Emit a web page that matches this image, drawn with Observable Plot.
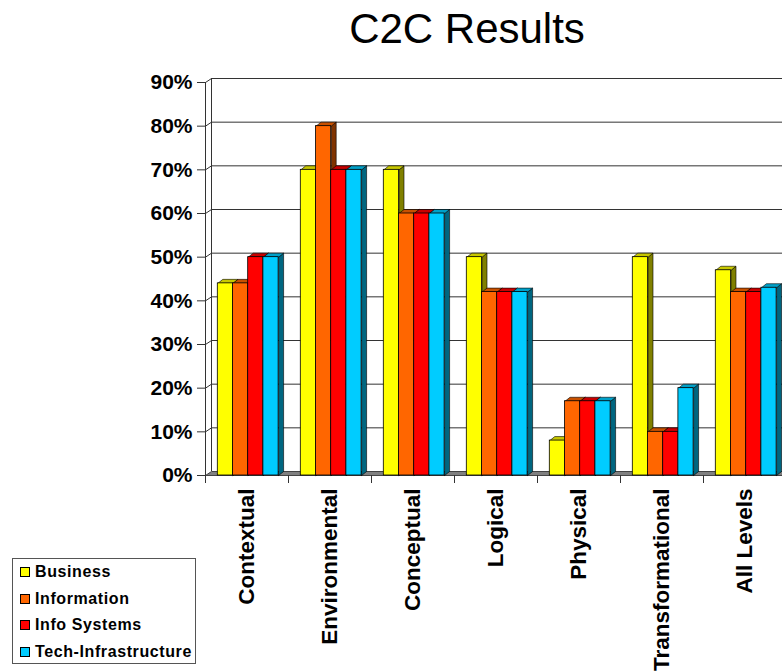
<!DOCTYPE html>
<html>
<head>
<meta charset="utf-8">
<script src="https://cdn.jsdelivr.net/npm/d3@7"></script>
<script src="https://cdn.jsdelivr.net/npm/@observablehq/plot@0.6"></script>
<style>
  html, body { margin: 0; padding: 0; background: #fff; overflow: hidden; }
  #wrap { position: relative; width: 782px; height: 671px; }
  #title { position: absolute; left: 267px; width: 400px; top: 8px; text-align: center;
           font-family: "Liberation Sans", Arial, sans-serif; font-size: 42px; line-height: 42px; color: #000; }
  #legend { position: absolute; left: 12px; top: 558px; width: 184px; height: 106px;
            border: 1px solid #555; box-sizing: border-box; padding-top: 0px;
            font-family: "Liberation Sans", Arial, sans-serif; font-weight: bold; font-size: 16px; letter-spacing: 0.6px; }
  .item { display: flex; align-items: center; height: 26.5px; }
  .sw { width: 8px; height: 8px; border: 1px solid #000; margin-left: 7px; margin-right: 5px; flex: none; }
</style>
</head>
<body>
<div id="wrap">
  <div id="chart"></div>
  <div id="title">C2C Results</div>
  <div id="legend"></div>
</div>
<script>
// ---- data ----
const categories = ["Contextual", "Environmental", "Conceptual", "Logical", "Physical", "Transformational", "All Levels"];
const series = ["Business", "Information", "Info Systems", "Tech-Infrastructure"];
const business          = [44, 70, 70, 50,  8, 50, 47];
const information       = [44, 80, 60, 42, 17, 10, 42];
const infoSystems       = [50, 70, 60, 42, 17, 10, 42];
const techInfrastructure = [50, 70, 60, 42, 17, 20, 43];
const yTicks = [0, 10, 20, 30, 40, 50, 60, 70, 80, 90];

// ---- styles ----
const frontColors = ["#FFFF00", "#FF6600", "#FF0000", "#00CCFF"];
const topColors   = ["#C8C800", "#C85000", "#C80000", "#00A0C8"];
const sideColors  = ["#808000", "#803300", "#800000", "#006680"];

const values = [business, information, infoSystems, techInfrastructure];

// layout (in scale units: one category = 1 unit on x)
const W = 782, H = 671;
const xPx = 83;                       // px per category
const yPx = (475 - 82) / 90;          // px per percent
const barOffset = 12.3 / xPx, barW = 15.2 / xPx;
const depthX = 5 / xPx, depthY = 4 / yPx;
const wallX = 6 / xPx;

const table = categories.flatMap((c, i) => series.map((s, j) => ({
  id: i * 10 + j, category: c, series: s, si: j, value: values[j][i],
  x1: i + barOffset + j * barW, x2: i + barOffset + (j + 1) * barW
})));

const sides = table.flatMap(d => [
  [d.x2, 0], [d.x2 + depthX, depthY], [d.x2 + depthX, d.value + depthY], [d.x2, d.value], [d.x2, 0]
].map(([x, y]) => ({id: d.id, x, y, color: sideColors[d.si]})));

const tops = table.flatMap(d => [
  [d.x1, d.value], [d.x2, d.value], [d.x2 + depthX, d.value + depthY], [d.x1 + depthX, d.value + depthY], [d.x1, d.value]
].map(([x, y]) => ({id: d.id, x, y, color: topColors[d.si]})));

const grid = yTicks.filter(t => t > 0).flatMap(t => [
  {t, x: 0, y: t}, {t, x: wallX, y: t + depthY}, {t, x: categories.length + 0.2, y: t + depthY}
]);

const floor = [[0, 0], [wallX, depthY], [categories.length + 0.2, depthY], [categories.length + 0.2, 0], [0, 0]]
  .map(([x, y]) => ({x, y}));

const chart = Plot.plot({
  width: W,
  height: H,
  marginLeft: 205,
  marginRight: 0,
  marginTop: 82,
  marginBottom: H - 475,
  style: {fontFamily: "'Liberation Sans', Arial, sans-serif", fontWeight: "bold", fontSize: "21px", color: "#000", background: "#fff"},
  x: {domain: [0, categories.length], range: [205, 205 + categories.length * xPx], axis: null},
  y: {domain: [0, 90], axis: null},
  marks: [
    // back wall grid lines (with left-wall diagonals)
    Plot.line(grid, {x: "x", y: "y", z: "t", stroke: "#333", strokeWidth: 1}),
    // left wall edges
    Plot.ruleX([0], {y1: 0, y2: 90, stroke: "#333", strokeWidth: 1}),
    Plot.ruleX([wallX], {y1: depthY, y2: 90 + depthY, stroke: "#333", strokeWidth: 1}),
    // floor
    Plot.line(floor, {x: "x", y: "y", fill: "#808080", stroke: "#444", strokeWidth: 1}),
    // 3D bars
    Plot.line(sides, {x: "x", y: "y", z: "id", fill: "color", stroke: "#000", strokeWidth: 0.6}),
    Plot.line(tops, {x: "x", y: "y", z: "id", fill: "color", stroke: "#000", strokeWidth: 0.6}),
    Plot.rectY(table, {x1: "x1", x2: "x2", y: "value", fill: d => frontColors[d.si], stroke: "#000", strokeWidth: 0.8}),
    // y axis
    Plot.axisY({ticks: yTicks, tickFormat: d => d + "%", tickSize: 8, tickPadding: 5, fontSize: 21, fontWeight: "bold", stroke: "#333"}),
    // category ticks at band boundaries
    Plot.axisX({ticks: d3.range(0, categories.length + 1), tickSize: 8, tickFormat: () => "", stroke: "#333"}),
    // category labels
    Plot.text(categories, {x: (d, i) => i + 0.5, frameAnchor: "bottom", dy: 13, rotate: -90,
      textAnchor: "end", lineAnchor: "middle", text: d => d, fontSize: 22.5, fontWeight: "bold", fill: "#000"})
  ]
});
document.getElementById("chart").appendChild(chart);

// legend
const legend = document.getElementById("legend");
series.forEach((s, j) => {
  const row = document.createElement("div");
  row.className = "item";
  const sw = document.createElement("span");
  sw.className = "sw";
  sw.style.background = frontColors[j];
  const lab = document.createElement("span");
  lab.textContent = s;
  row.appendChild(sw);
  row.appendChild(lab);
  legend.appendChild(row);
});
</script>
</body>
</html>
